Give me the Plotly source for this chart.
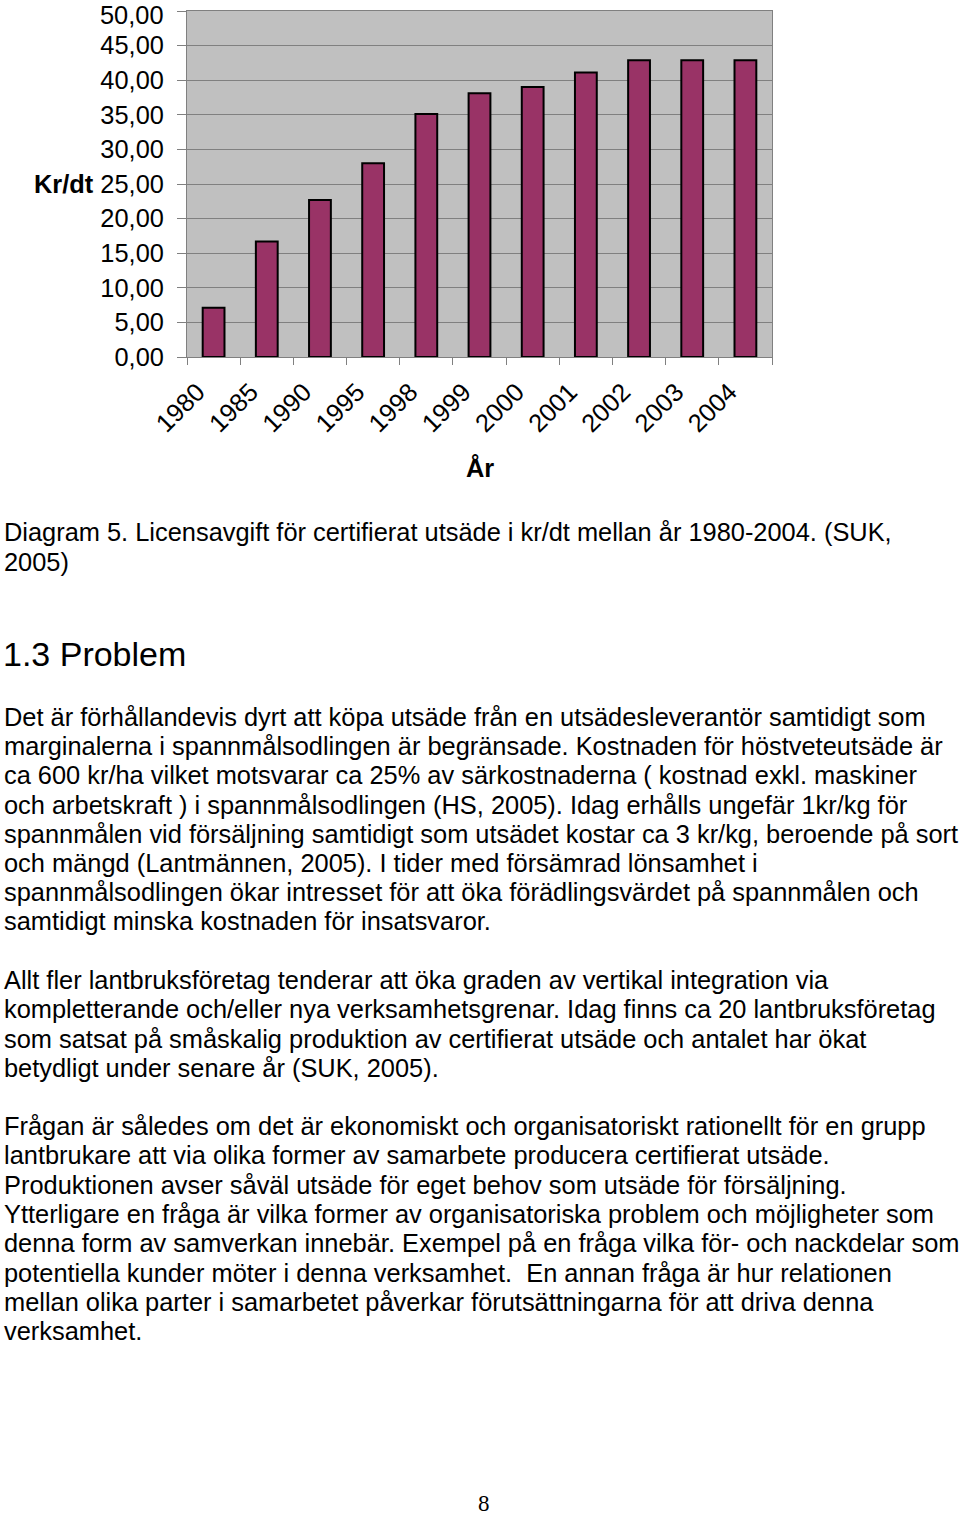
import plotly.graph_objects as go

years = ["1980", "1985", "1990", "1995", "1998", "1999", "2000", "2001", "2002", "2003", "2004"]
fee_kr_dt = [7.1, 16.7, 22.7, 28.0, 35.1, 38.1, 39.0, 41.1, 42.9, 42.9, 42.9]
y_ticks = [0, 5, 10, 15, 20, 25, 30, 35, 40, 45, 50]
y_tick_labels = ["0,00", "5,00", "10,00", "15,00", "20,00", "25,00", "30,00", "35,00", "40,00", "45,00", "50,00"]

caption_lines = [
    "Diagram 5. Licensavgift för certifierat utsäde i kr/dt mellan år 1980-2004. (SUK,",
    "2005)",
]
heading = "1.3 Problem"
para1 = [
    "Det är förhållandevis dyrt att köpa utsäde från en utsädesleverantör samtidigt som",
    "marginalerna i spannmålsodlingen är begränsade. Kostnaden för höstveteutsäde är",
    "ca 600 kr/ha vilket motsvarar ca 25% av särkostnaderna ( kostnad exkl. maskiner",
    "och arbetskraft ) i spannmålsodlingen (HS, 2005). Idag erhålls ungefär 1kr/kg för",
    "spannmålen vid försäljning samtidigt som utsädet kostar ca 3 kr/kg, beroende på sort",
    "och mängd (Lantmännen, 2005). I tider med försämrad lönsamhet i",
    "spannmålsodlingen ökar intresset för att öka förädlingsvärdet på spannmålen och",
    "samtidigt minska kostnaden för insatsvaror.",
]
para2 = [
    "Allt fler lantbruksföretag tenderar att öka graden av vertikal integration via",
    "kompletterande och/eller nya verksamhetsgrenar. Idag finns ca 20 lantbruksföretag",
    "som satsat på småskalig produktion av certifierat utsäde och antalet har ökat",
    "betydligt under senare år (SUK, 2005).",
]
para3 = [
    "Frågan är således om det är ekonomiskt och organisatoriskt rationellt för en grupp",
    "lantbrukare att via olika former av samarbete producera certifierat utsäde.",
    "Produktionen avser såväl utsäde för eget behov som utsäde för försäljning.",
    "Ytterligare en fråga är vilka former av organisatoriska problem och möjligheter som",
    "denna form av samverkan innebär. Exempel på en fråga vilka för- och nackdelar som",
    "potentiella kunder möter i denna verksamhet.  En annan fråga är hur relationen",
    "mellan olika parter i samarbetet påverkar förutsättningarna för att driva denna",
    "verksamhet.",
]

W, H = 960, 1521
PL, PR, PT, PB = 187, 772, 11, 357


def px(x):
    return (x - PL) / (PR - PL)


def py(y):
    return (PB - y) / (PB - PT)


FONT = "Liberation Sans, Arial, sans-serif"
FS = 25.4

fig = go.Figure(
    go.Bar(
        x=years,
        y=fee_kr_dt,
        marker=dict(color="#993366", line=dict(color="#000000", width=2)),
    )
)

annotations = []


def add_text(x, y, text, size=FS, bold=False, family=FONT, xanchor="left", yanchor="middle", pad=1):
    annotations.append(
        dict(
            x=px(x), y=py(y), xref="paper", yref="paper",
            text=f"<b>{text}</b>" if bold else text,
            showarrow=False, xanchor=xanchor, yanchor=yanchor, borderpad=pad,
            font=dict(family=family, size=size, color="#000000"),
        )
    )


# top tick label drawn as annotation so it stays inside the page
axis_labels = y_tick_labels[:-1] + [""]
add_text(165, 15.5, y_tick_labels[-1], xanchor="right", pad=0)

add_text(64, 184, "Kr/dt", bold=True, xanchor="center")
add_text(480, 468, "År", bold=True, xanchor="center")

for i, line in enumerate(caption_lines):
    add_text(2, 532 + i * 29.5, line)
add_text(1, 654, heading, size=34)
for i, line in enumerate(para1):
    add_text(2, 717 + i * 29.2, line)
for i, line in enumerate(para2):
    add_text(2, 980 + i * 29.3, line)
for i, line in enumerate(para3):
    add_text(2, 1126 + i * 29.3, line)
add_text(484, 1503, "8", size=23, family="Liberation Serif, Times New Roman, serif", xanchor="center")

fig.update_layout(
    width=W, height=H,
    margin=dict(l=PL, r=W - PR, t=PT, b=H - PB, pad=0, autoexpand=False),
    paper_bgcolor="#ffffff",
    plot_bgcolor="#c0c0c0",
    showlegend=False,
    bargap=0.59,
    font=dict(family=FONT, size=FS, color="#000000"),
    annotations=annotations,
)
fig.update_xaxes(
    type="category",
    automargin=False,
    tickson="boundaries",
    ticks="outside", ticklen=7, tickcolor="#808080",
    tickangle=-45,
    ticklabelstandoff=9,
    ticklabelshift=-16,
    ticklabeloverflow="allow",
    tickfont=dict(family=FONT, size=FS, color="#000000"),
    showline=True, linecolor="#808080", linewidth=1, mirror=True,
    showgrid=False,
)
fig.update_yaxes(
    automargin=False,
    range=[0, 50],
    tickmode="array",
    tickvals=y_ticks,
    ticktext=axis_labels,
    ticks="outside", ticklen=9, tickcolor="#808080",
    ticklabelstandoff=8,
    ticklabeloverflow="allow",
    tickfont=dict(family=FONT, size=FS, color="#000000"),
    showline=True, linecolor="#808080", linewidth=1, mirror=True,
    showgrid=True, gridcolor="#808080", gridwidth=1,
    zeroline=False,
)

fig.write_html("out.html")
